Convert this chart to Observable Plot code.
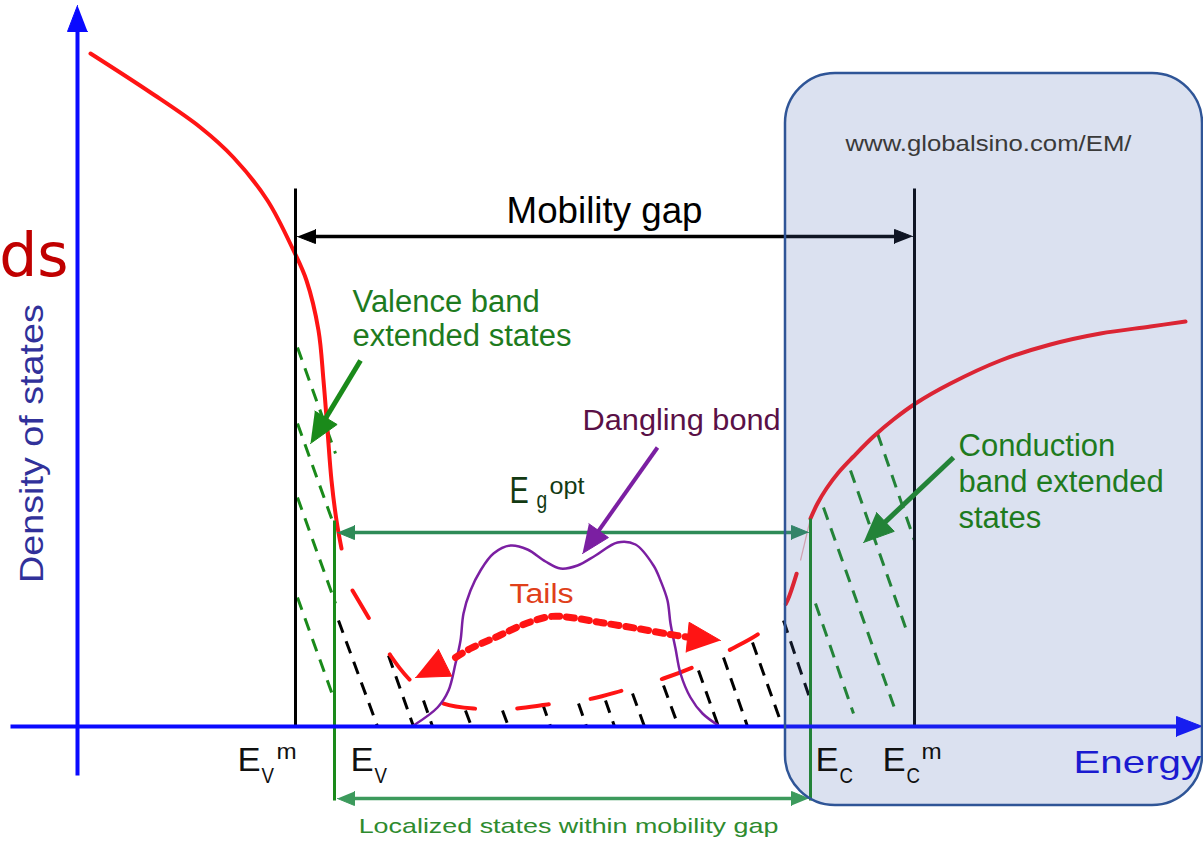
<!DOCTYPE html>
<html>
<head>
<meta charset="utf-8">
<script src="https://cdn.jsdelivr.net/npm/d3@7"></script>
<script src="https://cdn.jsdelivr.net/npm/@observablehq/plot@0.6"></script>
<style>
  html, body { margin: 0; padding: 0; background: #fff; }
  #chart svg { display: block; }
</style>
</head>
<body>
<div id="chart"></div>
<script>
// Density of states of an amorphous semiconductor: band tails, dangling-bond states,
// mobility gap and optical gap. Energy and density of states are in arbitrary units
// (density of states is 0 on the energy axis).

// ---- band densities ----
const valenceE   = [90, 150, 200, 233, 267, 293, 306, 318, 323, 327, 331, 336, 341];
const valenceDOS = [673, 634, 599, 569, 526, 476, 446, 396, 346, 296, 246, 206, 178];

const tailE   = [352, 368, 390, 408, 425, 443, 473, 515, 547, 592, 622, 663, 692, 732, 760, 778, 787, 800];
const tailDOS = [136, 109, 71, 48, 33, 23, 18, 18, 22, 28, 36, 48, 59, 78, 94, 111, 126, 166];

const conductionE   = [810, 817, 826, 838, 853, 873, 893, 915, 950, 1000, 1050, 1100, 1150, 1185];
const conductionDOS = [208, 223, 238, 254, 270, 290, 307, 323, 343, 366, 382, 393, 400, 405];

const danglingE   = [413, 437, 448, 455, 460, 463, 470, 480, 493, 510, 527, 545, 560, 577, 595, 617, 635, 653, 660, 667, 670, 675, 680, 690, 702, 718];
const danglingDOS = [1, 19, 36, 63, 86, 113, 136, 156, 173, 181, 177, 165, 158, 161, 171, 184, 182, 161, 146, 126, 103, 78, 53, 29, 13, 1];

// "Tails" double arrow (dotted path and its two tips)
const tailsArrowE   = [455, 470, 497, 523, 550, 570, 600, 637, 670, 690];
const tailsArrowDOS = [69, 78, 90, 102, 110, 109, 104, 98, 92, 89];
const tailsTipE   = [415, 720];
const tailsTipDOS = [49, 86];

// ---- band edges ----
const mobilityEdgeE = [295, 914];      // E_V^m, E_C^m
const mobilityEdgeTop = 538;
const opticalEdgeE = [334, 810];       // E_V, E_C
const opticalEdgeTop = [206, 208];
const opticalEdgeBottom = -74;

// ---- filled states (hatching), [E1, DOS1, E2, DOS2] ----
const valenceHatch = [[297, 379, 335, 273], [297, 303, 335, 197], [297, 229, 335, 123], [297, 129, 334, 26]];
const tailHatch = [[338, 106, 377, 0], [388, 71, 413, 0], [423, 26, 432, 0], [465, 16, 471, 0], [502, 16, 508, 0],
                   [542, 23, 550, 0], [578, 23, 586, 0], [605, 26, 614, 0], [632, 33, 644, 0], [663, 41, 678, 0],
                   [698, 56, 718, 0], [723, 69, 747, 0], [752, 84, 782, 0], [783, 106, 810, 26]];
const conductionHatch = [[815, 123, 853, 13], [823, 219, 896, 13], [850, 256, 905, 99], [877, 293, 914, 186]];

// ---- labels ----
const mobilityGapLabel = "Mobility gap";
const valenceLabel = ["Valence band", "extended states"];
const conductionLabel = ["Conduction", "band extended", "states"];
const danglingLabel = "Dangling bond";
const tailsLabel = "Tails";
const localizedLabel = "Localized states within mobility gap";
const energyLabel = "Energy";
const dosLabel = "Density of states";
const sourceLabel = "www.globalsino.com/EM/";
const titleFragment = "ds";
const edgeMain = ["E", "E", "E", "E"];
const edgeSub  = ["V", "V", "C", "C"];
const edgeSup  = ["m", "", "", "m"];
const edgeLabelE = [237, 350, 815, 882];
const gapMain = "E", gapSub = "g", gapSup = "opt";

// ---- colours ----
const BLUE = "#0a0aff", RED = "#ff1414", GREEN = "#1a8a1a", TEXT_GREEN = "#1e7b1e",
      SEA = "#2e8b57", LOC = "#3c9a5c", PURPLE = "#7b1fa2", PLUM = "#5a1046";
const SANS = "'Liberation Sans', Arial, sans-serif";

// ---- helpers ----
const pts = (xs, ys) => xs.map((x, i) => ({x, y: ys[i]}));
const segs = arr => arr.map(([x1, y1, x2, y2]) => ({x1, y1, x2, y2}));
let headId = 0;
function head(tip, from, len, half) {
  const dx = tip[0] - from[0], dy = tip[1] - from[1], d = Math.hypot(dx, dy);
  const ux = dx / d, uy = dy / d;
  const bx = tip[0] - ux * len, by = tip[1] - uy * len;
  const id = headId++;
  return [
    {x: tip[0], y: tip[1], id},
    {x: bx - uy * half, y: by + ux * half, id},
    {x: bx + uy * half, y: by - ux * half, id}
  ];
}
function arrowMarks({from, to, start = false, end = true, len, half, color, w}) {
  const dx = to[0] - from[0], dy = to[1] - from[1], d = Math.hypot(dx, dy);
  const ux = dx / d, uy = dy / d;
  const s = start ? [from[0] + ux * len * 0.6, from[1] + uy * len * 0.6] : from;
  const e = end ? [to[0] - ux * len * 0.6, to[1] - uy * len * 0.6] : to;
  const heads = [];
  if (start) heads.push(...head(from, to, len, half));
  if (end) heads.push(...head(to, from, len, half));
  return [
    Plot.link([{x1: s[0], y1: s[1], x2: e[0], y2: e[1]}], {x1: "x1", y1: "y1", x2: "x2", y2: "y2", stroke: color, strokeWidth: w}),
    Plot.line(heads, {x: "x", y: "y", z: "id", fill: color, stroke: color, strokeWidth: 1, strokeLinejoin: "miter"})
  ];
}

const arrows = [
  {from: [77, -49], to: [77, 721], len: 26, half: 10, color: BLUE, w: 4},                        // density axis
  {from: [10, 0], to: [1202, 0], len: 26, half: 10, color: BLUE, w: 4},                          // energy axis
  {from: [297, 490], to: [912, 490], start: true, len: 18, half: 7, color: "#000", w: 3.5},       // mobility gap
  {from: [337, 194], to: [808, 194], start: true, len: 17, half: 7, color: SEA, w: 3.5},          // optical gap
  {from: [337, -72], to: [808, -72], start: true, len: 17, half: 7, color: LOC, w: 3.5},          // localized states
  {from: [360, 366], to: [310, 283], len: 30, half: 13, color: GREEN, w: 5},                      // valence label
  {from: [953, 269], to: [863, 184], len: 30, half: 13, color: GREEN, w: 5},                      // conduction label
  {from: [657, 279], to: [582, 173], len: 28, half: 12, color: PURPLE, w: 4}                      // dangling bond label
];

// ---- text ----
const texts = [
  {t: titleFragment, E: 68, DOS: 451, size: 60, color: "#c00000", anchor: "end", font: "'Comic Sans MS', 'DejaVu Sans', sans-serif"},
  {t: dosLabel, E: 42, DOS: 283, size: 34, color: "#31319a", anchor: "middle", rotate: -90, sx: 1.11},
  {t: mobilityGapLabel, E: 604, DOS: 504, size: 36, color: "#000", anchor: "middle", sx: 1.02},
  {t: sourceLabel, E: 988, DOS: 576, size: 22, color: "#3a3a3a", anchor: "middle", sx: 1.17},
  {t: valenceLabel[0], E: 352, DOS: 415, size: 31, color: TEXT_GREEN, anchor: "start"},
  {t: valenceLabel[1], E: 352, DOS: 381, size: 31, color: TEXT_GREEN, anchor: "start"},
  {t: conductionLabel[0], E: 958, DOS: 271, size: 31, color: TEXT_GREEN, anchor: "start"},
  {t: conductionLabel[1], E: 958, DOS: 235, size: 31, color: TEXT_GREEN, anchor: "start"},
  {t: conductionLabel[2], E: 958, DOS: 199, size: 31, color: TEXT_GREEN, anchor: "start"},
  {t: danglingLabel, E: 582, DOS: 297, size: 29, color: PLUM, anchor: "start", sx: 1.06},
  {t: tailsLabel, E: 541, DOS: 124, size: 27, color: "#e0401a", anchor: "middle", sx: 1.19},
  {t: gapMain, E: 509, DOS: 224, size: 37, color: "#123a12", anchor: "start", sx: 0.78},
  {t: gapSub, E: 536, DOS: 219, size: 24, color: "#123a12", anchor: "start", sx: 0.8},
  {t: gapSup, E: 549, DOS: 233, size: 24, color: "#123a12", anchor: "start", sx: 1.05},
  {t: energyLabel, E: 1073, DOS: -46, size: 31, color: "#1a1ad0", anchor: "start", sx: 1.3},
  {t: localizedLabel, E: 568, DOS: -106, size: 21, color: "#2e8b2e", anchor: "middle", sx: 1.28}
];
edgeMain.forEach((m, i) => {
  const e0 = edgeLabelE[i];
  texts.push({t: m, E: e0, DOS: -44, size: 34, color: "#111", anchor: "start", sx: 1.02});
  texts.push({t: edgeSub[i], E: e0 + 24, DOS: -56, size: 22, color: "#111", anchor: "start", sx: 0.85});
  if (edgeSup[i]) texts.push({t: edgeSup[i], E: e0 + 39, DOS: -32, size: 22, color: "#111", anchor: "start", sx: 1.1});
});

// ---- marks ----
const dash = {strokeDasharray: "13,9", strokeWidth: 3};
const marks = [
  // filled states
  Plot.link(segs(valenceHatch), {x1: "x1", y1: "y1", x2: "x2", y2: "y2", stroke: GREEN, ...dash}),
  Plot.link(segs(tailHatch), {x1: "x1", y1: "y1", x2: "x2", y2: "y2", stroke: "#000", ...dash}),
  Plot.link(segs(conductionHatch), {x1: "x1", y1: "y1", x2: "x2", y2: "y2", stroke: GREEN, ...dash}),
  // density of states curves
  Plot.line(pts(valenceE, valenceDOS), {x: "x", y: "y", stroke: RED, strokeWidth: 4, curve: "catmull-rom"}),
  Plot.line(pts(tailE, tailDOS), {x: "x", y: "y", stroke: RED, strokeWidth: 4, curve: "catmull-rom", strokeDasharray: "32,42"}),
  Plot.link([{x1: tailE[tailE.length - 1], y1: tailDOS[tailDOS.length - 1], x2: conductionE[0], y2: conductionDOS[0]}],
            {x1: "x1", y1: "y1", x2: "x2", y2: "y2", stroke: "#f2b0b0", strokeWidth: 1.2}),
  Plot.line(pts(conductionE, conductionDOS), {x: "x", y: "y", stroke: RED, strokeWidth: 4, curve: "catmull-rom"}),
  Plot.line(pts(danglingE, danglingDOS), {x: "x", y: "y", stroke: PURPLE, strokeWidth: 2.5, curve: "catmull-rom"}),
  // tails double arrow
  Plot.line(pts(tailsArrowE, tailsArrowDOS), {x: "x", y: "y", stroke: RED, strokeWidth: 7, curve: "catmull-rom", strokeDasharray: "8,7"}),
  Plot.line([
    ...head([tailsTipE[0], tailsTipDOS[0]], [tailsArrowE[0], tailsArrowDOS[0]], 33, 15),
    ...head([tailsTipE[1], tailsTipDOS[1]], [tailsArrowE[tailsArrowE.length - 1], tailsArrowDOS[tailsArrowDOS.length - 1]], 33, 15)
  ], {x: "x", y: "y", z: "id", fill: RED, stroke: RED, strokeWidth: 1}),
  // band edges
  Plot.link(mobilityEdgeE.map(e => ({x1: e, y1: 0, x2: e, y2: mobilityEdgeTop})), {x1: "x1", y1: "y1", x2: "x2", y2: "y2", stroke: "#000", strokeWidth: 3}),
  Plot.link(opticalEdgeE.map((e, i) => ({x1: e, y1: opticalEdgeBottom, x2: e, y2: opticalEdgeTop[i]})), {x1: "x1", y1: "y1", x2: "x2", y2: "y2", stroke: GREEN, strokeWidth: 3}),
  // axes and annotation arrows
  ...arrows.flatMap(arrowMarks),
  // conduction-band highlight box
  Plot.rect([{x1: 785, x2: 1202, y1: -79, y2: 653}], {x1: "x1", x2: "x2", y1: "y1", y2: "y2", rx: 50,
    fill: "#4967b5", fillOpacity: 0.2, stroke: "#2f5597", strokeWidth: 2.5}),
  // labels
  ...texts.map(d => Plot.text([d], {
    x: "E", y: "DOS", text: "t", fill: d.color, fontSize: d.size, textAnchor: d.anchor, lineAnchor: "bottom",
    fontFamily: d.font || SANS, rotate: d.rotate || 0
  }))
];

const chart = Plot.plot({
  width: 1203,
  height: 841,
  margin: 0,
  x: {domain: [0, 1203], range: [0, 1203], axis: null},
  y: {domain: [-115, 726], range: [841, 0], axis: null},
  style: {background: "#fff", overflow: "visible"},
  marks
});

// horizontal stretch of individual labels
const textEls = chart.querySelectorAll("text");
if (textEls.length === texts.length) {
  textEls.forEach((el, i) => {
    const s = texts[i].sx;
    if (s && s !== 1) el.setAttribute("transform", (el.getAttribute("transform") || "") + ` scale(${s},1)`);
  });
}
document.getElementById("chart").appendChild(chart);
</script>
</body>
</html>
